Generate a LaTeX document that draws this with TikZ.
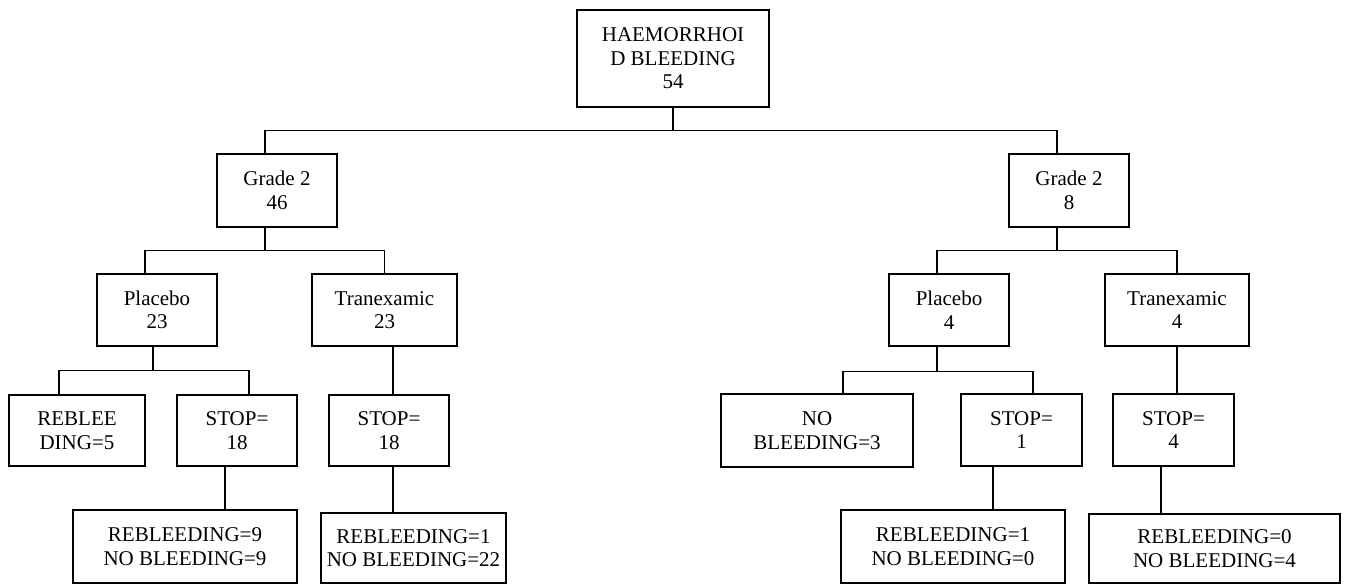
\documentclass[tikz,border=0pt]{standalone}
\usepackage{fontspec}
\setmainfont{Liberation Serif}
\begin{document}
\begin{tikzpicture}[x=1pt,y=-1pt,
  box/.style={draw, line width=1.1pt, inner sep=0pt, align=center,
    font=\fontsize{21pt}{23.5pt}\selectfont},
  conn/.style={line width=1.1pt}]
\useasboundingbox[fill=white] (0,0) rectangle (1346,584);
% level 0
\node[box, minimum width=192pt, minimum height=97pt] (root) at (673,58.5) {HAEMORRHOI\\D BLEEDING\\54};
% level 1
\node[box, minimum width=120pt, minimum height=73pt] (g2l) at (277,190.5) {Grade 2\\46};
\node[box, minimum width=120pt, minimum height=73pt] (g2r) at (1069,190.5) {Grade 2\\8};
% level 2
\node[box, minimum width=120pt, minimum height=72pt] (pl) at (157,310) {Placebo\\23};
\node[box, minimum width=145pt, minimum height=72pt] (tl) at (384.5,310) {Tranexamic\\23};
\node[box, minimum width=120pt, minimum height=72pt] (pr) at (949,310) {Placebo\\4};
\node[box, minimum width=144pt, minimum height=72pt] (tr) at (1177,310) {Tranexamic\\4};
% level 3
\node[box, minimum width=136pt, minimum height=71pt] (reb) at (77,430.5) {REBLEE\\DING=5};
\node[box, minimum width=120pt, minimum height=71pt] (s1) at (237,430.5) {STOP=\\18};
\node[box, minimum width=120pt, minimum height=71pt] (s2) at (389,430.5) {STOP=\\18};
\node[box, minimum width=192pt, minimum height=73pt] (nob) at (817,430.5) {NO\\BLEEDING=3};
\node[box, minimum width=121pt, minimum height=72pt] (s3) at (1021.5,430) {STOP=\\1};
\node[box, minimum width=121pt, minimum height=72pt] (s4) at (1173.5,430) {STOP=\\4};
% level 4
\node[box, minimum width=224pt, minimum height=73pt] (b1) at (185,546.5) {REBLEEDING=9\\NO BLEEDING=9};
\node[box, minimum width=185pt, minimum height=70pt] (b2) at (413.5,548) {REBLEEDING=1\\NO BLEEDING=22};
\node[box, minimum width=224pt, minimum height=73pt] (b3) at (953,546.5) {REBLEEDING=1\\NO BLEEDING=0};
\node[box, minimum width=251pt, minimum height=69pt] (b4) at (1214.5,548.5) {REBLEEDING=0\\NO BLEEDING=4};
% connectors
\draw[conn] (root.south) -- ++(0,23) -| ([xshift=-12pt]g2l.north);
\draw[conn] (root.south) -- ++(0,23) -| ([xshift=-12pt]g2r.north);
\draw[conn] ([xshift=-12pt]g2l.south) -- ++(0,23) -| ([xshift=-12pt]pl.north);
\draw[conn] ([xshift=-12pt]g2l.south) -- ++(0,23) -| (tl.north);
\draw[conn] ([xshift=-12pt]g2r.south) -- ++(0,23) -| ([xshift=-12pt]pr.north);
\draw[conn] ([xshift=-12pt]g2r.south) -- ++(0,23) -| (tr.north);
\draw[conn] ([xshift=-4pt]pl.south) -- ++(0,24) -| ([xshift=-18pt]reb.north);
\draw[conn] ([xshift=-4pt]pl.south) -- ++(0,24) -| ([xshift=12pt]s1.north);
\draw[conn] ([xshift=8.5pt]tl.south) -- ([xshift=8.5pt]tl.south |- s2.north);
\draw[conn] ([xshift=-12pt]pr.south) -- ++(0,25) -| ([xshift=26pt]nob.north);
\draw[conn] ([xshift=-12pt]pr.south) -- ++(0,25) -| ([xshift=11.5pt]s3.north);
\draw[conn] (tr.south) -- (tr.south |- s4.north);
\draw[conn] ([xshift=-12pt]s1.south) -- ([xshift=-12pt]s1.south |- b1.north);
\draw[conn] ([xshift=4pt]s2.south) -- ([xshift=4pt]s2.south |- b2.north);
\draw[conn] ([xshift=-28.5pt]s3.south) -- ([xshift=-28.5pt]s3.south |- b3.north);
\draw[conn] ([xshift=-12.5pt]s4.south) -- ([xshift=-12.5pt]s4.south |- b4.north);
\end{tikzpicture}
\end{document}
